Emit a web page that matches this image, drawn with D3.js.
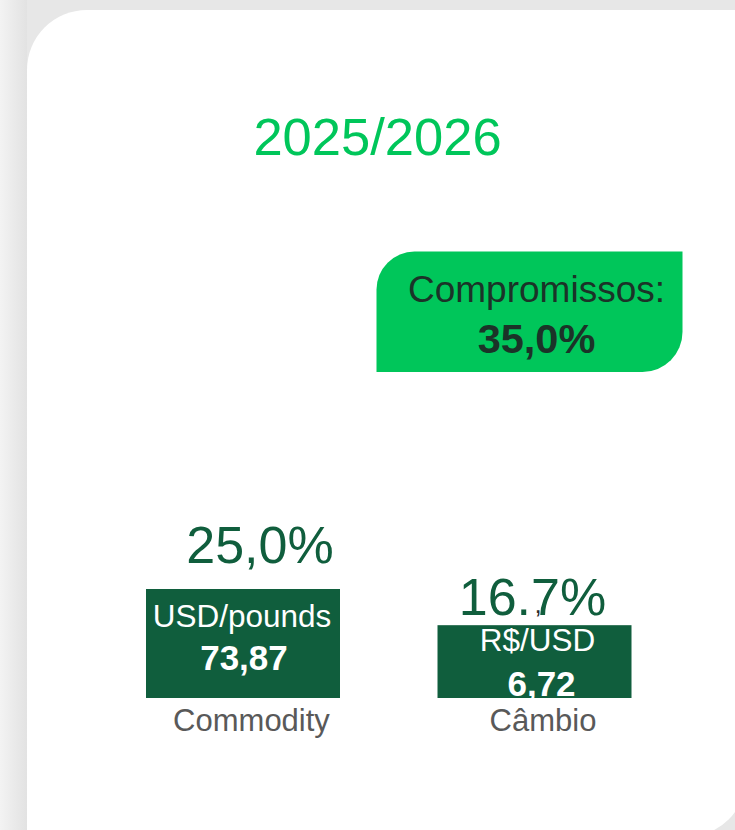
<!DOCTYPE html>
<html>
<head>
<meta charset="utf-8">
<script src="https://cdn.jsdelivr.net/npm/d3@7"></script>
<style>
  html, body { margin: 0; padding: 0; background: #e7e7e7; }
  svg { display: block; font-family: "Liberation Sans", Arial, sans-serif; }
</style>
</head>
<body>
<svg id="chart" width="735" height="830"></svg>
<script>
// ---- data ----
const title = "2025/2026";
const categories = ["Commodity", "Câmbio"];
const shares = [25.0, 16.7];
const shareLabels = ["25,0%", "16.7%"];
const unitLabels = ["USD/pounds", "R$/USD"];
const priceLabels = ["73,87", "6,72"];
const commitmentLabel = "Compromissos:";
const commitmentValue = "35,0%";

// ---- layout (not data) ----
const labelDx = [17, -2], labelDy = [-26, -10];
const unitDx = [-1, 3], unitDy = [38, 26];
const priceDx = [1, 7], priceDy = [81, 71];

const svg = d3.select("#chart");
const W = 735, H = 830;

// background + soft shadow
const defs = svg.append("defs");
const g1 = defs.append("linearGradient").attr("id", "shL").attr("x1", 0).attr("x2", 1).attr("y1", 0).attr("y2", 0);
g1.append("stop").attr("offset", "0%").attr("stop-color", "#f3f3f3");
g1.append("stop").attr("offset", "100%").attr("stop-color", "#e2e2e2");
svg.append("rect").attr("width", W).attr("height", H).attr("fill", "#e7e7e7");
svg.append("rect").attr("x", 0).attr("y", 0).attr("width", 27).attr("height", H).attr("fill", "url(#shL)");

// card: rounded top-left and bottom-right
function leafPath(x0, y0, x1, y1, r1, r2) {
  return `M${x0},${y1} V${y0 + r1} A${r1},${r1} 0 0 1 ${x0 + r1},${y0} H${x1} V${y1 - r2} A${r2},${r2} 0 0 1 ${x1 - r2},${y1} Z`;
}
svg.append("path").attr("d", leafPath(27, 10, 745, 836, 60, 56)).attr("fill", "#ffffff");

// title
svg.append("text").attr("x", 377.5).attr("y", 155).attr("text-anchor", "middle")
  .attr("font-size", 52.5).attr("fill", "#00c65a").text(title);

// commitments box
svg.append("path").attr("d", leafPath(376.5, 251.5, 682.5, 372, 38, 40)).attr("fill", "#00c65a");
svg.append("text").attr("x", 536.5).attr("y", 302).attr("text-anchor", "middle")
  .attr("font-size", 37).attr("fill", "#1b3328").text(commitmentLabel);
svg.append("text").attr("x", 536.5).attr("y", 353).attr("text-anchor", "middle")
  .attr("font-size", 41.5).attr("font-weight", "bold").attr("fill", "#1b3328").text(commitmentValue);

// scales
const x = d3.scaleBand().domain(categories).range([146, 631.5]).paddingInner(0.3345).paddingOuter(0);
const y = d3.scaleLinear().domain([0, 25]).range([698, 589]);

const data = categories.map((c, i) => ({ c, v: shares[i], i }));

const g = svg.append("g");
g.selectAll("rect.bar").data(data).join("rect").attr("class", "bar")
  .attr("x", d => x(d.c)).attr("y", d => y(d.v))
  .attr("width", x.bandwidth()).attr("height", d => y(0) - y(d.v))
  .attr("fill", "#105e3d");

const cx = d => x(d.c) + x.bandwidth() / 2;

g.selectAll("text.val").data(data).join("text").attr("class", "val")
  .attr("x", d => cx(d) + labelDx[d.i]).attr("y", d => y(d.v) + labelDy[d.i])
  .attr("text-anchor", "middle").attr("font-size", 52).attr("fill", "#105e3d")
  .text(d => shareLabels[d.i]);

// stray comma under the period of the second label
svg.append("text").attr("x", 538).attr("y", 613).attr("text-anchor", "middle")
  .attr("font-size", 26).attr("fill", "#2a2a2a").text(",");

g.selectAll("text.unit").data(data).join("text").attr("class", "unit")
  .attr("x", d => cx(d) + unitDx[d.i]).attr("y", d => y(d.v) + unitDy[d.i])
  .attr("text-anchor", "middle").attr("font-size", 31.5).attr("fill", "#ffffff")
  .text(d => unitLabels[d.i]);

g.selectAll("text.price").data(data).join("text").attr("class", "price")
  .attr("x", d => cx(d) + priceDx[d.i]).attr("y", d => y(d.v) + priceDy[d.i])
  .attr("text-anchor", "middle").attr("font-size", 35).attr("font-weight", "bold").attr("fill", "#ffffff")
  .text(d => priceLabels[d.i]);

// category axis labels
g.selectAll("text.cat").data(data).join("text").attr("class", "cat")
  .attr("x", d => cx(d) + 8.5).attr("y", d => y(0) + 33)
  .attr("text-anchor", "middle").attr("font-size", 31).attr("fill", "#595959")
  .text(d => d.c);
</script>
</body>
</html>
